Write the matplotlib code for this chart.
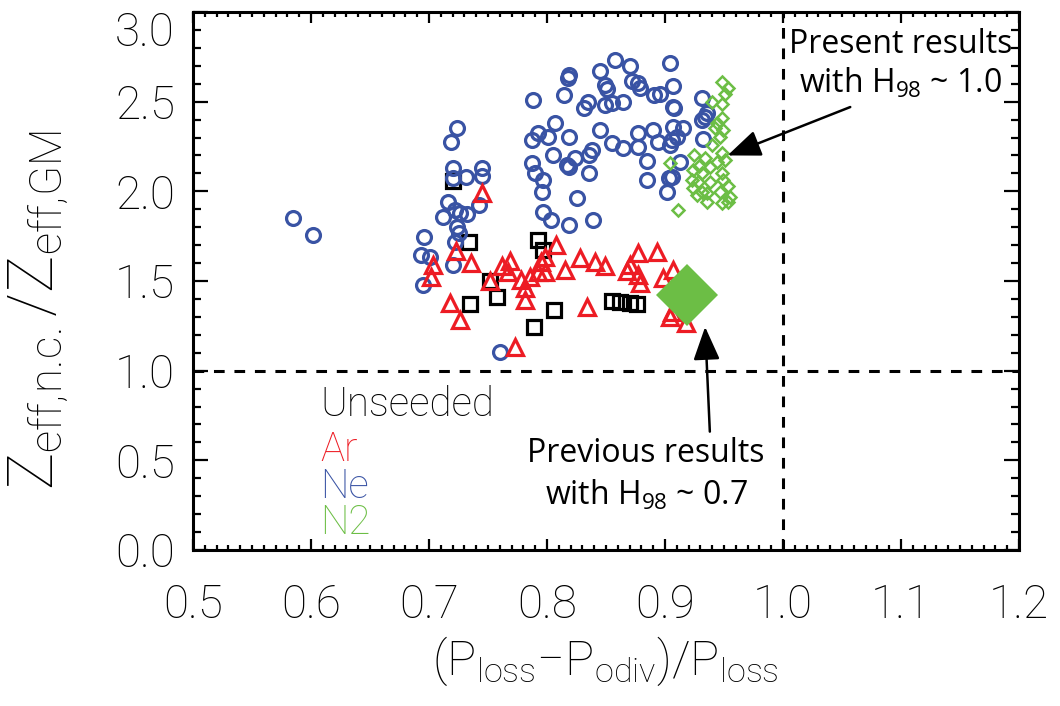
import matplotlib
matplotlib.use("Agg")
import matplotlib.pyplot as plt
from matplotlib.ticker import MultipleLocator, FuncFormatter, FormatStrFormatter

plt.rcParams['font.family'] = ['Roboto', 'DejaVu Sans']
plt.rcParams['mathtext.default'] = 'regular'

# Ne seeded discharges (open blue circles)
ne_x = [0.585, 0.602, 0.724, 0.719, 0.720, 0.720, 0.731, 0.745, 0.745, 0.716,
        0.712, 0.722, 0.726, 0.732, 0.742, 0.724, 0.725, 0.722, 0.696, 0.693,
        0.701, 0.720, 0.695, 0.760, 0.788, 0.814, 0.819, 0.818, 0.845, 0.858,
        0.870, 0.904, 0.849, 0.851, 0.872, 0.877, 0.879, 0.891, 0.896, 0.907,
        0.831, 0.835, 0.849, 0.855, 0.864, 0.908, 0.931, 0.934, 0.931, 0.932,
        0.807, 0.792, 0.787, 0.801, 0.819, 0.845, 0.855, 0.864, 0.877, 0.890,
        0.894, 0.906, 0.907, 0.915, 0.904, 0.877, 0.838, 0.836, 0.824, 0.805,
        0.817, 0.819, 0.787, 0.790, 0.797, 0.796, 0.836, 0.885, 0.885, 0.903,
        0.906, 0.902, 0.913, 0.825, 0.797, 0.803, 0.819, 0.839, 0.936, 0.907,
        0.910]
ne_y = [1.852, 1.757, 2.354, 2.276, 2.131, 2.075, 2.080, 2.131, 2.086, 1.941,
        1.857, 1.896, 1.880, 1.874, 1.924, 1.801, 1.768, 1.718, 1.746, 1.645,
        1.634, 1.590, 1.478, 1.104, 2.510, 2.538, 2.649, 2.632, 2.672, 2.733,
        2.699, 2.716, 2.593, 2.571, 2.616, 2.605, 2.577, 2.538, 2.543, 2.588,
        2.465, 2.499, 2.482, 2.493, 2.499, 2.465, 2.521, 2.415, 2.398, 2.292,
        2.381, 2.326, 2.287, 2.303, 2.303, 2.342, 2.270, 2.242, 2.326, 2.342,
        2.276, 2.287, 2.359, 2.354, 2.259, 2.248, 2.231, 2.203, 2.186, 2.203,
        2.147, 2.136, 2.158, 2.103, 2.064, 1.997, 2.103, 2.170, 2.064, 2.075,
        2.080, 1.997, 2.164, 1.963, 1.885, 1.840, 1.813, 1.840, 2.437, 2.471,
        2.303]

# Ar seeded discharges (open red triangles)
ar_x = [0.745, 0.723, 0.736, 0.703, 0.702, 0.718, 0.726, 0.752, 0.762, 0.769,
        0.767, 0.778, 0.781, 0.781, 0.792, 0.795, 0.798, 0.808, 0.815, 0.828,
        0.841, 0.849, 0.834, 0.868, 0.877, 0.877, 0.879, 0.893, 0.870, 0.898,
        0.907, 0.906, 0.904, 0.918, 0.773, 0.798, 0.786]
ar_y = [1.991, 1.668, 1.601, 1.590, 1.523, 1.378, 1.283, 1.500, 1.584, 1.612,
        1.550, 1.506, 1.461, 1.394, 1.550, 1.606, 1.550, 1.701, 1.562, 1.629,
        1.606, 1.584, 1.355, 1.556, 1.656, 1.534, 1.489, 1.662, 1.590, 1.517,
        1.562, 1.327, 1.299, 1.266, 1.132, 1.634, 1.523]

# unseeded discharges (open black squares)
uns_x = [0.720, 0.734, 0.752, 0.758, 0.735, 0.792, 0.797, 0.806, 0.789, 0.855,
         0.862, 0.870, 0.876]
uns_y = [2.058, 1.718, 1.500, 1.411, 1.372, 1.729, 1.673, 1.339, 1.244, 1.389,
         1.383, 1.378, 1.372]

# N2 seeded discharges, present results (open green diamonds)
n2_x = [0.948, 0.953, 0.951, 0.940, 0.948, 0.948, 0.944, 0.949, 0.947, 0.948,
        0.925, 0.934, 0.904, 0.944, 0.951, 0.924, 0.931, 0.938, 0.948, 0.923,
        0.928, 0.938, 0.949, 0.953, 0.924, 0.931, 0.936, 0.947, 0.955, 0.936,
        0.948, 0.953, 0.911, 0.927, 0.942, 0.940, 0.929]
n2_y = [2.610, 2.577, 2.543, 2.499, 2.487, 2.409, 2.381, 2.342, 2.303, 2.214,
        2.203, 2.186, 2.158, 2.164, 2.175, 2.119, 2.103, 2.136, 2.103, 2.064,
        2.052, 2.052, 2.064, 2.030, 2.019, 1.997, 1.991, 1.997, 1.969, 1.941,
        1.935, 1.941, 1.896, 1.980, 2.354, 2.259, 2.141]

# previous N2 result (filled green diamond)
prev_x = [0.919]
prev_y = [1.422]

blue = '#3953a4'
red = '#ed1c24'
green = '#6cbe45'
tw = 'light'
tick_fs = 33

fig = plt.figure(figsize=(10.6, 7.06), dpi=100)
ax = fig.add_axes([0.1821, 0.2210, 0.7792, 0.7620])

ax.axhline(1.0, color='k', lw=2.2, ls=(0, (3.5, 3.2)), zorder=1)
ax.axvline(1.0, color='k', lw=2.2, ls=(0, (3.5, 3.2)), zorder=1)

ax.plot(uns_x, uns_y, 's', ms=9.5, mfc='none', mec='k', mew=2.3, zorder=2)
ax.plot(ne_x, ne_y, 'o', ms=10, mfc='none', mec=blue, mew=2.3, zorder=3)
ax.plot(ar_x, ar_y, '^', ms=11, mfc='none', mec=red, mew=2.3, zorder=4)
ax.plot(n2_x, n2_y, 'D', ms=6.5, mfc='none', mec=green, mew=1.8, zorder=5)
ax.plot(prev_x, prev_y, 'D', ms=32, mfc=green, mec=green, mew=0, zorder=6)

ax.set_xlim(0.5, 1.2)
ax.set_ylim(0.0, 3.0)
ax.xaxis.set_major_locator(MultipleLocator(0.1))
ax.xaxis.set_minor_locator(MultipleLocator(0.01))
ax.yaxis.set_major_locator(MultipleLocator(0.5))
ax.yaxis.set_minor_locator(MultipleLocator(0.1))
ax.xaxis.set_major_formatter(FormatStrFormatter('%.1f'))
# the top label is drawn separately, hanging below the axis corner
ax.yaxis.set_major_formatter(FuncFormatter(lambda v, p: '' if v > 2.99 else '%.1f' % v))

for s in ax.spines.values():
    s.set_linewidth(2.2)
ax.tick_params(which='both', direction='in', top=True, right=True, width=1.6)
ax.tick_params(axis='x', which='major', length=8, pad=24)
ax.tick_params(axis='x', which='minor', length=3.5)
ax.tick_params(axis='y', which='major', length=11, pad=13)
ax.tick_params(axis='y', which='minor', length=5.5)
ax.tick_params(labelsize=tick_fs)
for lab in ax.get_xticklabels() + ax.get_yticklabels():
    lab.set_fontweight(tw)
ax.annotate('3.0', xy=(0, 3.0), xycoords=('axes fraction', 'data'),
            xytext=(-13, 1), textcoords='offset points', ha='right', va='top',
            fontsize=tick_fs, fontweight=tw)

ax.text(-0.186, 0.446, 'Z$_{eff,\\!n.\\!c.}$/Z$_{eff,\\!GM}$', transform=ax.transAxes,
        rotation=90, ha='center', va='center', fontsize=45, fontweight=tw)
ax.text(0.499, -0.207, '(P$_{loss}$\u2212P$_{odiv}$)/P$_{loss}$', transform=ax.transAxes,
        ha='center', va='center', fontsize=35, fontweight=tw)

# legend drawn as coloured words
leg_words = ['Unseeded', 'Ar', 'Ne', 'N2']
leg_colors = ['k', red, blue, green]
leg_rows = [0.270, 0.186, 0.117, 0.050]
for word, col, yy in zip(leg_words, leg_colors, leg_rows):
    ax.text(0.154, yy, word, transform=ax.transAxes, color=col,
            fontsize=29, fontweight=tw, ha='left', va='center')

# annotations
head = '-|>,head_length=0.6,head_width=0.24'
ax.annotate('', xy=(0.953, 2.20), xytext=(1.057, 2.47),
            arrowprops=dict(arrowstyle=head, color='k', lw=1.8,
                            mutation_scale=34, shrinkA=0, shrinkB=0), zorder=7)
ax.text(1.1, 2.71, 'Present results\nwith H$_{98}$ ~ 1.0', ha='center',
        va='center', fontsize=23, family='Open Sans', linespacing=1.2, zorder=7)
ax.annotate('', xy=(0.934, 1.244), xytext=(0.938, 0.66),
            arrowprops=dict(arrowstyle=head, color='k', lw=1.8,
                            mutation_scale=34, shrinkA=0, shrinkB=0), zorder=7)
ax.text(0.884, 0.42, 'Previous results\nwith H$_{98}$ ~ 0.7', ha='center',
        va='center', fontsize=23, family='Open Sans', linespacing=1.3, zorder=7)

fig.savefig('out.png', dpi=100)
